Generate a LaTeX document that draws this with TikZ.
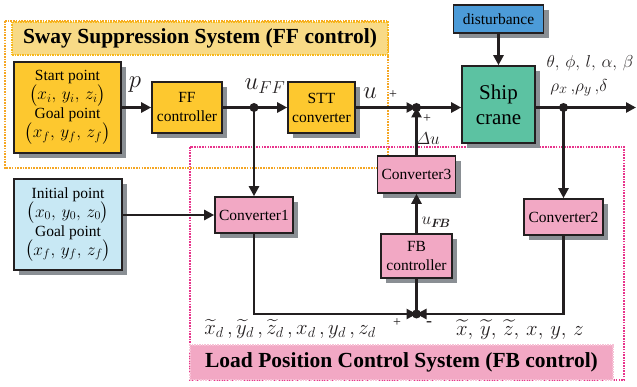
\documentclass[tikz,border=0pt]{standalone}
\usepackage{amsmath}
\usepackage{amssymb}
\usepackage{xcolor}
\usepackage{fontspec}
\setmainfont{Liberation Serif}
\usepackage{tikz}
\usetikzlibrary{shapes,arrows.meta,positioning,shadows}

\definecolor{linecol}{HTML}{231F20}
\definecolor{ffyellow}{HTML}{FDC82F}
\definecolor{ffbanner}{HTML}{F8DA86}
\definecolor{fforange}{HTML}{F5A623}
\definecolor{fbpink}{HTML}{F2A8C4}
\definecolor{fbframe}{HTML}{E8348C}
\definecolor{initblue}{HTML}{C8E8F4}
\definecolor{distblue}{HTML}{4C9BD8}
\definecolor{cranegreen}{HTML}{5CC2A2}
\definecolor{shadowgray}{HTML}{8A8F94}

\newcommand{\ptmath}[1]{{\fontsize{18}{18}\selectfont$\bigl(#1\bigr)$}}

\tikzset{
    blk/.style={draw=linecol, line width=1.6pt, rectangle, align=center, inner sep=0pt,
        font=\fontsize{15.5}{19}\selectfont,
        drop shadow={shadow xshift=5pt, shadow yshift=-5pt, fill=shadowgray, opacity=1}},
    sig/.style={line width=2.7pt, draw=linecol, -{Triangle[length=10pt,width=10pt]}},
    wire/.style={line width=2.7pt, draw=linecol},
    dot/.style={circle, fill=linecol, inner sep=0pt, minimum size=9pt},
    lbl/.style={inner sep=0pt, text=linecol},
}

\begin{document}
\begin{tikzpicture}[x=1pt, y=-1pt]
    \useasboundingbox (0,0) rectangle (637,387);

    % frames of the two subsystems
    \draw[fforange, line width=2.2pt, dash pattern=on 1.6pt off 1.1pt] (5,21) rectangle (388,168);
    \draw[fbframe, line width=2.2pt, dash pattern=on 1.6pt off 1.1pt] (190,147) rectangle (624,380);
    \node[fill=ffbanner, draw=fforange!80!yellow, line width=1.5pt, dash pattern=on 1.5pt off 1pt,
        minimum width=376pt, minimum height=33pt, inner sep=0pt,
        font=\fontsize{21.5}{24}\selectfont\bfseries] (ffbar) at (200,38.5) {Sway Suppression System (FF control)};
    \node[fill=fbpink, draw=fbpink!70!white, line width=1.5pt, dash pattern=on 1.5pt off 1pt,
        minimum width=423pt, minimum height=35pt, inner sep=0pt,
        font=\fontsize{21.5}{24}\selectfont\bfseries] (fbbar) at (401.5,362.5) {Load Position Control System (FB control)};

    % blocks
    \node[blk, fill=ffyellow, minimum width=107pt, minimum height=91pt] (start) at (67.5,107.5) {
        Start point\\[0pt]
        \ptmath{x_i,\, y_i,\, z_i}\\[0pt]
        Goal point\\[0pt]
        \ptmath{x_f,\, y_f,\, z_f}
    };
    \node[blk, fill=ffyellow, minimum width=70pt, minimum height=51pt] (ffc) at (187,107.5) {FF\\controller};
    \node[blk, fill=ffyellow, minimum width=67pt, minimum height=51pt] (stt) at (321.5,107.5) {STT\\converter};
    \node[blk, fill=cranegreen, minimum width=73pt, minimum height=77pt,
        font=\fontsize{21}{25}\selectfont] (crane) at (498.5,104.5) {Ship\\crane};
    \node[blk, fill=distblue, minimum width=90pt, minimum height=28pt] (dist) at (498.5,19) {disturbance};
    \node[blk, fill=fbpink, minimum width=78pt, minimum height=37pt] (conv3) at (416.5,174.5) {Converter3};
    \node[blk, fill=fbpink, minimum width=78pt, minimum height=36pt] (conv1) at (254,215) {Converter1};
    \node[blk, fill=fbpink, minimum width=79pt, minimum height=36pt] (conv2) at (563.5,217) {Converter2};
    \node[blk, fill=fbpink, minimum width=71pt, minimum height=44pt] (fbc) at (416.5,256) {FB\\controller};
    \node[blk, fill=initblue, minimum width=108pt, minimum height=91pt] (init) at (68,224.5) {
        Initial point\\[0pt]
        \ptmath{x_0,\, y_0,\, z_0}\\[0pt]
        Goal point\\[0pt]
        \ptmath{x_f,\, y_f,\, z_f}
    };

    % branch points and free ends
    \coordinate (j1) at (254,107.5);
    \coordinate (j2) at (416.5,107.5);
    \coordinate (j3) at (563.5,107.5);
    \coordinate (j4) at (416.5,314);
    \coordinate (out) at (636,107.5);

    % connectors
    \draw[sig] (start) -- (ffc);
    \draw[sig] (ffc) -- (stt);
    \draw[sig] (j1) -- (conv1);
    \draw[sig] (stt) -- (j2);
    \draw[sig] (conv3) -- (j2);
    \draw[sig] (j2) -- (j2 -| crane.west);
    \draw[sig] (dist) -- (crane);
    \draw[sig] (crane.east |- j3) -- (out);
    \draw[sig] (j3) -- (conv2);
    \draw[sig] (init.east |- conv1) -- (conv1);
    \draw[sig] (conv1) |- (j4);
    \draw[sig] (conv2) |- (j4);
    \draw[wire] (j4) -- (fbc);
    \draw[sig] (fbc) -- (conv3);

    \node[dot] at (j1) {};
    \node[dot] at (j2) {};
    \node[dot] at (j3) {};
    \node[dot] at (j4) {};

    % signal labels
    \node[lbl, font=\fontsize{30}{30}\selectfont] (lp) at (135,85) {$p$};
    \node[lbl, font=\fontsize{25}{25}\selectfont] (luff) at (265,86) {$u_{FF}$};
    \node[lbl, font=\fontsize{28}{28}\selectfont] (lu) at (370,93) {$u$};
    \node[lbl, font=\fontsize{14}{14}\selectfont] (lplus1) at (393,95) {+};
    \node[lbl, font=\fontsize{14}{14}\selectfont] (lplus2) at (427,119) {+};
    \node[lbl, font=\fontsize{18}{18}\selectfont] (ldu) at (428,139) {$\varDelta u$};
    \node[lbl, font=\fontsize{18}{18}\selectfont] (lufb) at (436,222) {$u_{\boldsymbol{F\!B}}$};
    \node[lbl, font=\fontsize{19}{19}\selectfont] (lang) at (590,63) {$\theta,\,\phi,\,l,\,\alpha,\,\beta$};
    \node[lbl, font=\fontsize{19}{19}\selectfont] (lrho) at (579,88) {$\rho_x\,,\!\rho_y\,,\!\delta$};
    \node[lbl, font=\fontsize{19.5}{19.5}\selectfont] (lref) at (290,329) {$\widetilde{x}_d\,,\widetilde{y}_d\,,\widetilde{z}_d\,,x_d\,,y_d\,,z_d$};
    \node[lbl, font=\fontsize{22}{22}\selectfont] (lmeas) at (520,330) {$\widetilde{x},\,\widetilde{y},\,\widetilde{z},\,x,\,y,\,z$};
    \node[lbl, font=\fontsize{14}{14}\selectfont] (lplus3) at (397,323) {+};
    \node[lbl, font=\fontsize{18}{18}\selectfont] (lminus) at (429,324) {-};
\end{tikzpicture}
\end{document}
